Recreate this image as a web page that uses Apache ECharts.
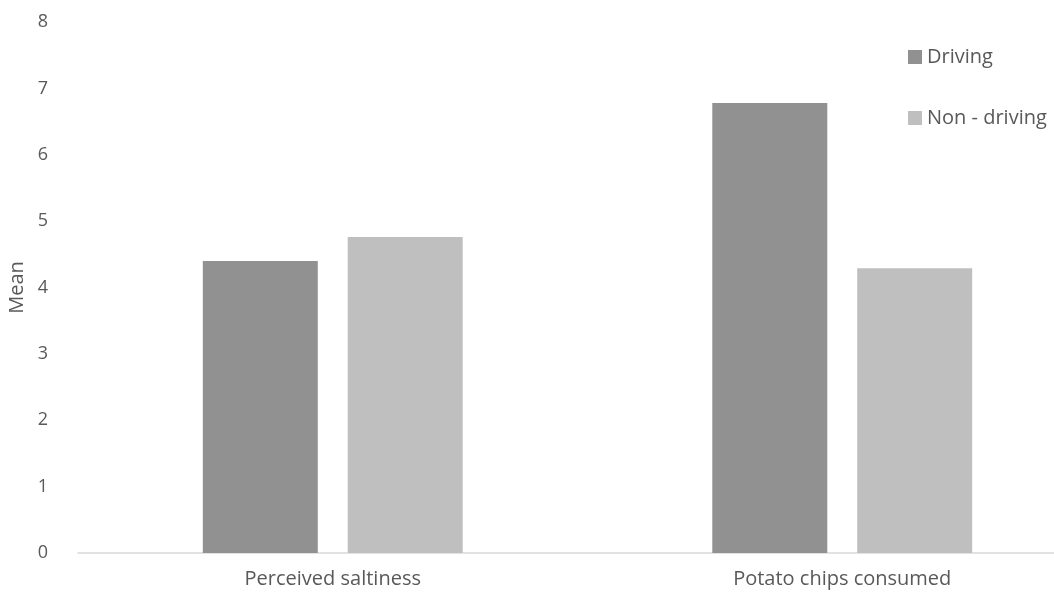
<!DOCTYPE html>
<html>
<head>
<meta charset="utf-8">
<script src="https://cdn.jsdelivr.net/npm/echarts@6/dist/echarts.min.js"></script>
<style>
  html, body { margin: 0; padding: 0; background: #fff; }
  #chart { width: 1054px; height: 596px; }
</style>
</head>
<body>
<div id="chart"></div>
<script>
// Mean scores by condition
const categories = ['Perceived saltiness', 'Potato chips consumed'];
const drivingValues = [4.40, 6.78];
const nonDrivingValues = [4.76, 4.29];
const yTicks = { min: 0, max: 8, interval: 1 };

const FONT = '"Open Sans", sans-serif';
const TEXT = '#595959';

const chart = echarts.init(document.getElementById('chart'), null, { renderer: 'canvas' });
chart.setOption({
  backgroundColor: '#ffffff',
  animation: false,
  textStyle: { fontFamily: FONT, color: TEXT },
  // plot area runs past the right edge of the canvas
  grid: { left: 78, top: 22, width: 1019, bottom: 43, outerBoundsMode: 'none', containLabel: false },
  legend: [
    {
      data: ['Driving'], left: 903, top: 41, orient: 'vertical',
      icon: 'rect', itemWidth: 14, itemHeight: 14, itemGap: 0,
      textStyle: { fontFamily: FONT, color: TEXT, fontSize: 20, lineHeight: 22 }
    },
    {
      data: ['Non - driving'], left: 903, top: 102, orient: 'vertical',
      icon: 'rect', itemWidth: 14, itemHeight: 14, itemGap: 0,
      textStyle: { fontFamily: FONT, color: TEXT, fontSize: 20, lineHeight: 22 }
    }
  ],
  xAxis: {
    type: 'category',
    data: categories,
    axisLine: { lineStyle: { color: '#d9d9d9', width: 1.5 } },
    axisTick: { show: false },
    axisLabel: { fontFamily: FONT, color: TEXT, fontSize: 20, margin: 16 }
  },
  yAxis: {
    type: 'value',
    min: yTicks.min, max: yTicks.max, interval: yTicks.interval,
    name: 'Mean',
    nameLocation: 'middle',
    nameGap: 46,
    nameTextStyle: { fontFamily: FONT, color: TEXT, fontSize: 20 },
    axisLine: { show: false },
    axisTick: { show: false },
    splitLine: { show: false },
    axisLabel: { fontFamily: FONT, color: TEXT, fontSize: 18, margin: 30 }
  },
  series: [
    {
      name: 'Driving', type: 'bar', data: drivingValues,
      barWidth: 115, barGap: '26%',
      itemStyle: { color: '#919191' }
    },
    {
      name: 'Non - driving', type: 'bar', data: nonDrivingValues,
      barWidth: 115,
      itemStyle: { color: '#bfbfbf' }
    }
  ]
});
</script>
</body>
</html>
